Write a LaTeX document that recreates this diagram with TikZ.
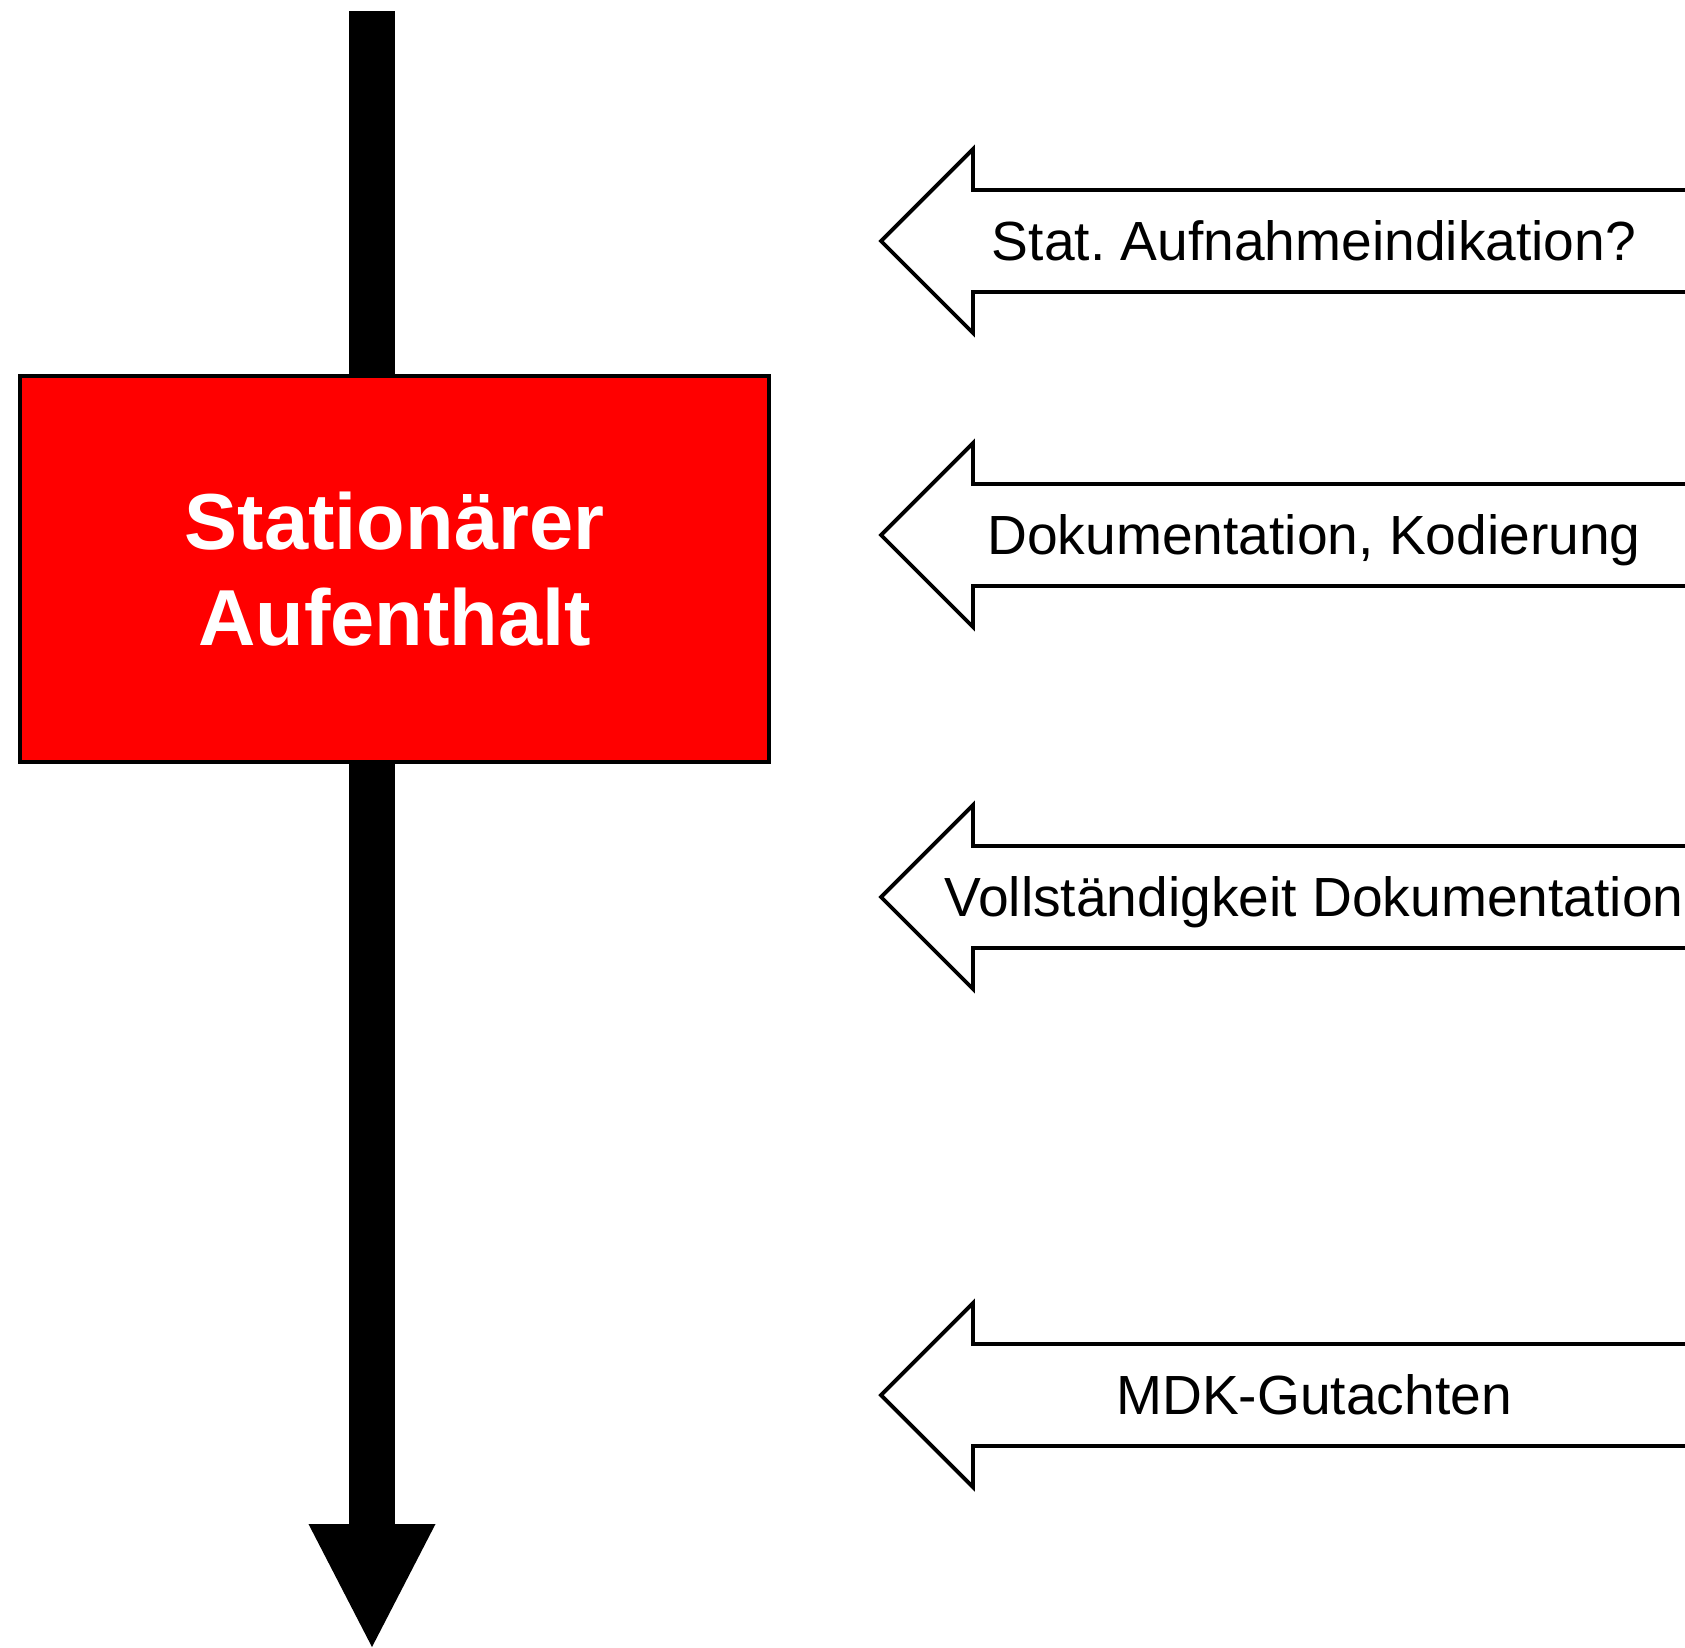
\documentclass[tikz,border=0pt]{standalone}
\usepackage{fontspec}
\setmainfont{Liberation Sans}
\usepackage{tikz}
\usetikzlibrary{
  arrows.meta,
  positioning,
  calc
}
\frenchspacing
\definecolor{stayred}{RGB}{255,0,0}
\tikzset{
  staybox/.style={
    draw=black,
    line width=0.9pt,
    fill=stayred,
    text=white,
    align=center,
    minimum width=7.49cm,
    minimum height=3.86cm,
    inner sep=0pt,
    font=\bfseries\fontsize{22.6}{27.2}\selectfont
  },
  timeline/.style={draw=black,line width=4.6mm},
  timetip/.style={-{Triangle[width=12.7mm,length=12.3mm,line width=0pt]}},
  noteshape/.style={draw=black,line width=1.1pt,fill=white,line join=miter},
  notetext/.style={inner sep=0pt,text height=11.3pt,text depth=0pt,font=\fontsize{15.7}{19}\selectfont},
}

\begin{document}
\begin{tikzpicture}
  \useasboundingbox (0,0) rectangle (16.85,-16.47);

  % Time line with the stay
  \coordinate (ttop) at (3.72,-0.11);
  \coordinate (tend) at (3.72,-16.47);
  \node[staybox] (stay) at (3.945,-5.69) {Stationärer\\Aufenthalt};
  \draw[timeline] (ttop) -- (ttop |- stay.north);
  \draw[timeline,timetip] (ttop |- stay.south) -- (tend);

  % Checks pointing at the stay
  \draw[noteshape] (17.47,-1.90) -- (9.73,-1.90) -- (9.73,-1.49) -- (8.81,-2.41)
    -- (9.73,-3.33) -- (9.73,-2.92) -- (17.47,-2.92) -- cycle;
  \node[notetext] (aufnahme) at (13.14,-2.41) {Stat. Aufnahmeindikation?};

  \draw[noteshape] (17.47,-4.84) -- (9.73,-4.84) -- (9.73,-4.43) -- (8.81,-5.35)
    -- (9.73,-6.27) -- (9.73,-5.86) -- (17.47,-5.86) -- cycle;
  \node[notetext] (kodierung) at (13.14,-5.35) {Dokumentation, Kodierung};

  \draw[noteshape] (17.47,-8.46) -- (9.73,-8.46) -- (9.73,-8.05) -- (8.81,-8.97)
    -- (9.73,-9.89) -- (9.73,-9.48) -- (17.47,-9.48) -- cycle;
  \node[notetext] (vollst) at (13.14,-8.97) {Vollständigkeit Dokumentation};

  \draw[noteshape] (17.47,-13.44) -- (9.73,-13.44) -- (9.73,-13.03) -- (8.81,-13.95)
    -- (9.73,-14.87) -- (9.73,-14.46) -- (17.47,-14.46) -- cycle;
  \node[notetext] (gutachten) at (13.14,-13.95) {MDK-Gutachten};
\end{tikzpicture}
\end{document}
